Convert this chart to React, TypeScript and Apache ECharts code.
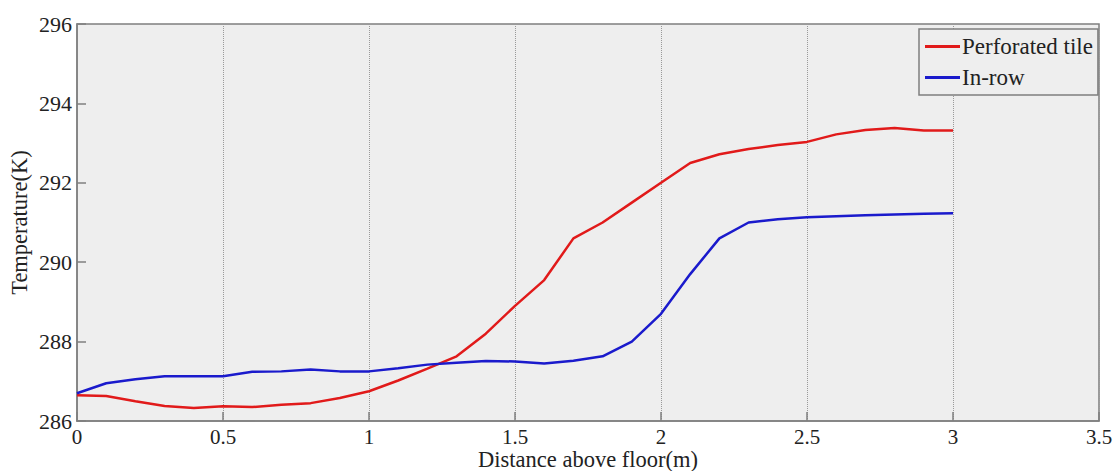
import React, { useEffect, useRef } from "react";
import * as echarts from "echarts";

const distances = [0, 0.1, 0.2, 0.3, 0.4, 0.5, 0.6, 0.7, 0.8, 0.9, 1.0, 1.1, 1.2, 1.3, 1.4, 1.5, 1.6, 1.7, 1.8, 1.9, 2.0, 2.1, 2.2, 2.3, 2.4, 2.5, 2.6, 2.7, 2.8, 2.9, 3.0];
const perforatedTile = [286.65, 286.63, 286.5, 286.38, 286.33, 286.37, 286.35, 286.41, 286.45, 286.58, 286.75, 287.02, 287.32, 287.63, 288.2, 288.9, 289.55, 290.6, 291.0, 291.5, 292.0, 292.5, 292.72, 292.85, 292.95, 293.03, 293.22, 293.33, 293.38, 293.32, 293.32];
const inRow = [286.7, 286.95, 287.05, 287.13, 287.13, 287.13, 287.24, 287.25, 287.3, 287.25, 287.25, 287.33, 287.42, 287.47, 287.51, 287.5, 287.45, 287.52, 287.63, 288.0, 288.7, 289.7, 290.6, 291.0, 291.08, 291.13, 291.16, 291.18, 291.2, 291.22, 291.23];
const seriesNames = ["Perforated tile", "In-row"];
const xAxisName = "Distance above floor(m)";
const yAxisName = "Temperature(K)";

const FONT = "'Liberation Serif', 'Times New Roman', serif";

export default function App() {
  const ref = useRef<HTMLDivElement>(null);
  useEffect(() => {
    if (!ref.current) return;
    const chart = echarts.init(ref.current, null, { renderer: "svg" });
    const frame = "#7f7f7f";
    chart.setOption({
      animation: false,
      backgroundColor: "#ffffff",
      grid: {
        left: 77,
        top: 24,
        right: 18,
        bottom: 50,
        containLabel: false,
        outerBoundsMode: "none",
        show: true,
        backgroundColor: "#eeeeee",
        borderColor: frame,
        borderWidth: 1.5,
      },
      legend: {
        left: 919,
        top: 29,
        orient: "vertical",
        icon: "rect",
        itemWidth: 35,
        itemHeight: 3,
        itemGap: 8,
        padding: [6, 5, 6, 6],
        borderColor: frame,
        borderWidth: 1.5,
        backgroundColor: "#eeeeee",
        textStyle: { fontFamily: FONT, fontSize: 23, color: "#222", lineHeight: 20, padding: [0, 0, 0, -3] },
        data: seriesNames,
      },
      xAxis: {
        type: "value",
        min: 0,
        max: 3.5,
        interval: 0.5,
        name: xAxisName,
        nameLocation: "middle",
        nameGap: 27,
        nameMoveOverlap: false,
        nameTextStyle: { fontFamily: FONT, fontSize: 22.5, color: "#222" },
        axisLine: { show: true, onZero: false, lineStyle: { color: frame, width: 1.5 } },
        axisTick: { show: true, inside: true, length: 9, lineStyle: { color: frame, width: 1.5 } },
        axisLabel: { fontFamily: FONT, fontSize: 21, color: "#222", margin: 5 },
        splitLine: { show: true, lineStyle: { type: "dotted", color: "#999999", width: 1 } },
      },
      yAxis: {
        type: "value",
        min: 286,
        max: 296,
        interval: 2,
        name: yAxisName,
        nameLocation: "middle",
        nameGap: 46,
        nameMoveOverlap: false,
        nameTextStyle: { fontFamily: FONT, fontSize: 22.5, color: "#222" },
        axisLine: { show: true, lineStyle: { color: frame, width: 1.5 } },
        axisTick: { show: true, inside: true, length: 9, lineStyle: { color: frame, width: 1.5 } },
        axisLabel: { fontFamily: FONT, fontSize: 22, color: "#222", margin: 5 },
        splitLine: { show: false },
      },
      series: [
        {
          name: seriesNames[0],
          type: "line",
          data: distances.map((d, i) => [d, perforatedTile[i]]),
          showSymbol: false,
          symbol: "none",
          lineStyle: { color: "#e11a1a", width: 2.5 },
          itemStyle: { color: "#e11a1a" },
        },
        {
          name: seriesNames[1],
          type: "line",
          data: distances.map((d, i) => [d, inRow[i]]),
          showSymbol: false,
          symbol: "none",
          lineStyle: { color: "#1a1acc", width: 2.5 },
          itemStyle: { color: "#1a1acc" },
        },
      ],
    });
    return () => chart.dispose();
  }, []);
  return <div ref={ref} style={{ width: 1117, height: 471, position: "absolute", left: 0, top: 0 }} />;
}
